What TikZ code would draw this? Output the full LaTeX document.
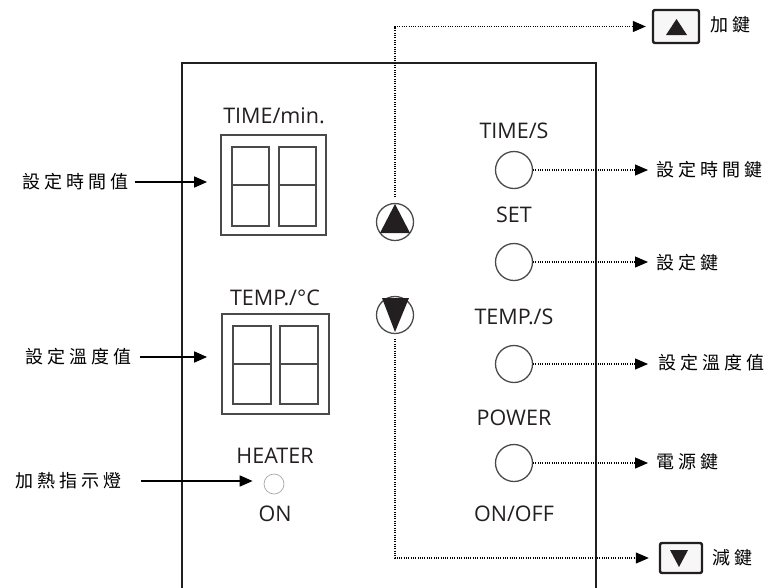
\documentclass[tikz,border=0pt]{standalone}
\usepackage{fontspec}
\setmainfont{Open Sans}
\newfontfamily\cjk[LetterSpace=22]{Noto Sans CJK TC}
\usetikzlibrary{arrows.meta}
\definecolor{ink}{HTML}{231F20}
\definecolor{dgray}{HTML}{4A4A4A}
\begin{document}
\begin{tikzpicture}[x=1pt,y=-1pt,
  lab/.style={font=\fontsize{21.5}{24}\selectfont, text=ink, inner sep=0},
  cjkl/.style={font=\cjk\fontsize{18}{20}\selectfont, inner sep=0, text=black},
  rbtn/.style={circle, draw=dgray, line width=1.3pt, minimum size=37pt, inner sep=0},
  arbtn/.style={circle, draw=dgray, line width=1.3pt, minimum size=37pt, inner sep=0},
  dotline/.style={line width=1.1pt, dash pattern=on 1pt off 1.3pt},
  arr/.style={line width=1.6pt, -{Triangle[length=13pt,width=11pt]}},
  darr/.style={dotline, -{Triangle[length=13pt,width=11pt]}},
  dispbox/.style={draw=dgray, line width=1.8pt, inner sep=0},
  keybox/.style={draw=ink, line width=2.4pt, rounded corners=2pt, fill=gray!6, inner sep=0}
]
\useasboundingbox (0,0) rectangle (765,587);

% panel
\draw[ink, line width=2.2pt] (182,590) -- (182,63) -- (596,63) -- (596,590);

% displays
\node[lab] (timelab) at (274,116) {TIME/min.};
\node[dispbox, minimum width=105pt, minimum height=100pt] (d1) at (273.5,185) {};
\draw[dispbox] (232,147) rectangle (269,226) (232,185) -- (269,185);
\draw[dispbox] (279,147) rectangle (316,226) (279,185) -- (316,185);

\node[lab] (templab) at (275,298) {TEMP./\textdegree C};
\node[dispbox, minimum width=107pt, minimum height=100pt] (d2) at (275.5,364) {};
\draw[dispbox] (233,326) rectangle (271,404) (233,364) -- (271,364);
\draw[dispbox] (280,326) rectangle (318,404) (280,364) -- (318,364);

% heater
\node[lab] (heatlab) at (275,456) {HEATER};
\node[circle, draw=gray!70, line width=0.7pt, minimum size=20pt, inner sep=0] (led) at (274,484) {};
\node[lab] (onlab) at (275,514) {ON};

% left labels
\node[cjkl, anchor=west] (l1) at (22,182) {設定時間值};
\node[cjkl, anchor=west] (l2) at (25,357) {設定溫度值};
\node[cjkl, anchor=west] (l3) at (15,481) {加熱指示燈};
\coordinate (l1s) at (135,182);
\coordinate (l2s) at (140,357);
\coordinate (l3s) at (141,481);
\draw[arr, shorten >=13pt] (l1s) -- (d1.west |- l1s);
\draw[arr, shorten >=14pt] (l2s) -- (d2.west |- l2s);
\draw[arr, shorten >=11pt] (l3s) -- (led.west |- l3s);

% up / down buttons
\node[arbtn] (up) at (395,222) {};
\fill[ink] (395,204) -- (410,233) -- (380,233) -- cycle;
\node[arbtn] (dn) at (395,315) {};
\fill[ink] (382,298) -- (409,298) -- (395,332) -- cycle;

% key boxes
\node[keybox, minimum width=46pt, minimum height=33pt] (upbox) at (676,26.5) {};
\fill[ink] (666,35) -- (676.5,19) -- (687,35) -- cycle;
\node[cjkl, anchor=west] (upt) at (710,25) {加鍵};
\node[keybox, minimum width=42pt, minimum height=30pt] (dnbox) at (681,558) {};
\fill[ink] (670,550) -- (688,550) -- (679,567) -- cycle;
\node[cjkl, anchor=west] (dnt) at (712,558) {減鍵};

\coordinate (ups) at (395,197);
\coordinate (dns) at (395,339);
\draw[darr, shorten >=6pt] (ups) |- (upbox.west);
\draw[darr, shorten >=10pt] (dns) |- (dnbox.west);

% right buttons
\node[lab] (ts) at (514,131) {TIME/S};
\node[rbtn] (b1) at (514,170) {};
\node[lab] (set) at (514,215) {SET};
\node[rbtn] (b2) at (514,262) {};
\node[lab] (tps) at (514,317) {TEMP./S};
\node[rbtn] (b3) at (514,364) {};
\node[lab] (pw) at (514,418) {POWER};
\node[rbtn] (b4) at (514,463) {};
\node[lab] (onoff) at (514,514) {ON/OFF};

\node[cjkl, anchor=west] (r1) at (656,170) {設定時間鍵};
\node[cjkl, anchor=west] (r2) at (656,263) {設定鍵};
\node[cjkl, anchor=west] (r3) at (658,363) {設定溫度值};
\node[cjkl, anchor=west] (r4) at (656,462) {電源鍵};
\draw[darr, shorten >=8pt] (b1.east) -- (r1.west |- b1.east);
\draw[darr, shorten >=8pt] (b2.east) -- (r2.west |- b2.east);
\draw[darr, shorten >=10pt] (b3.east) -- (r3.west |- b3.east);
\draw[darr, shorten >=8pt] (b4.east) -- (r4.west |- b4.east);
\end{tikzpicture}
\end{document}
